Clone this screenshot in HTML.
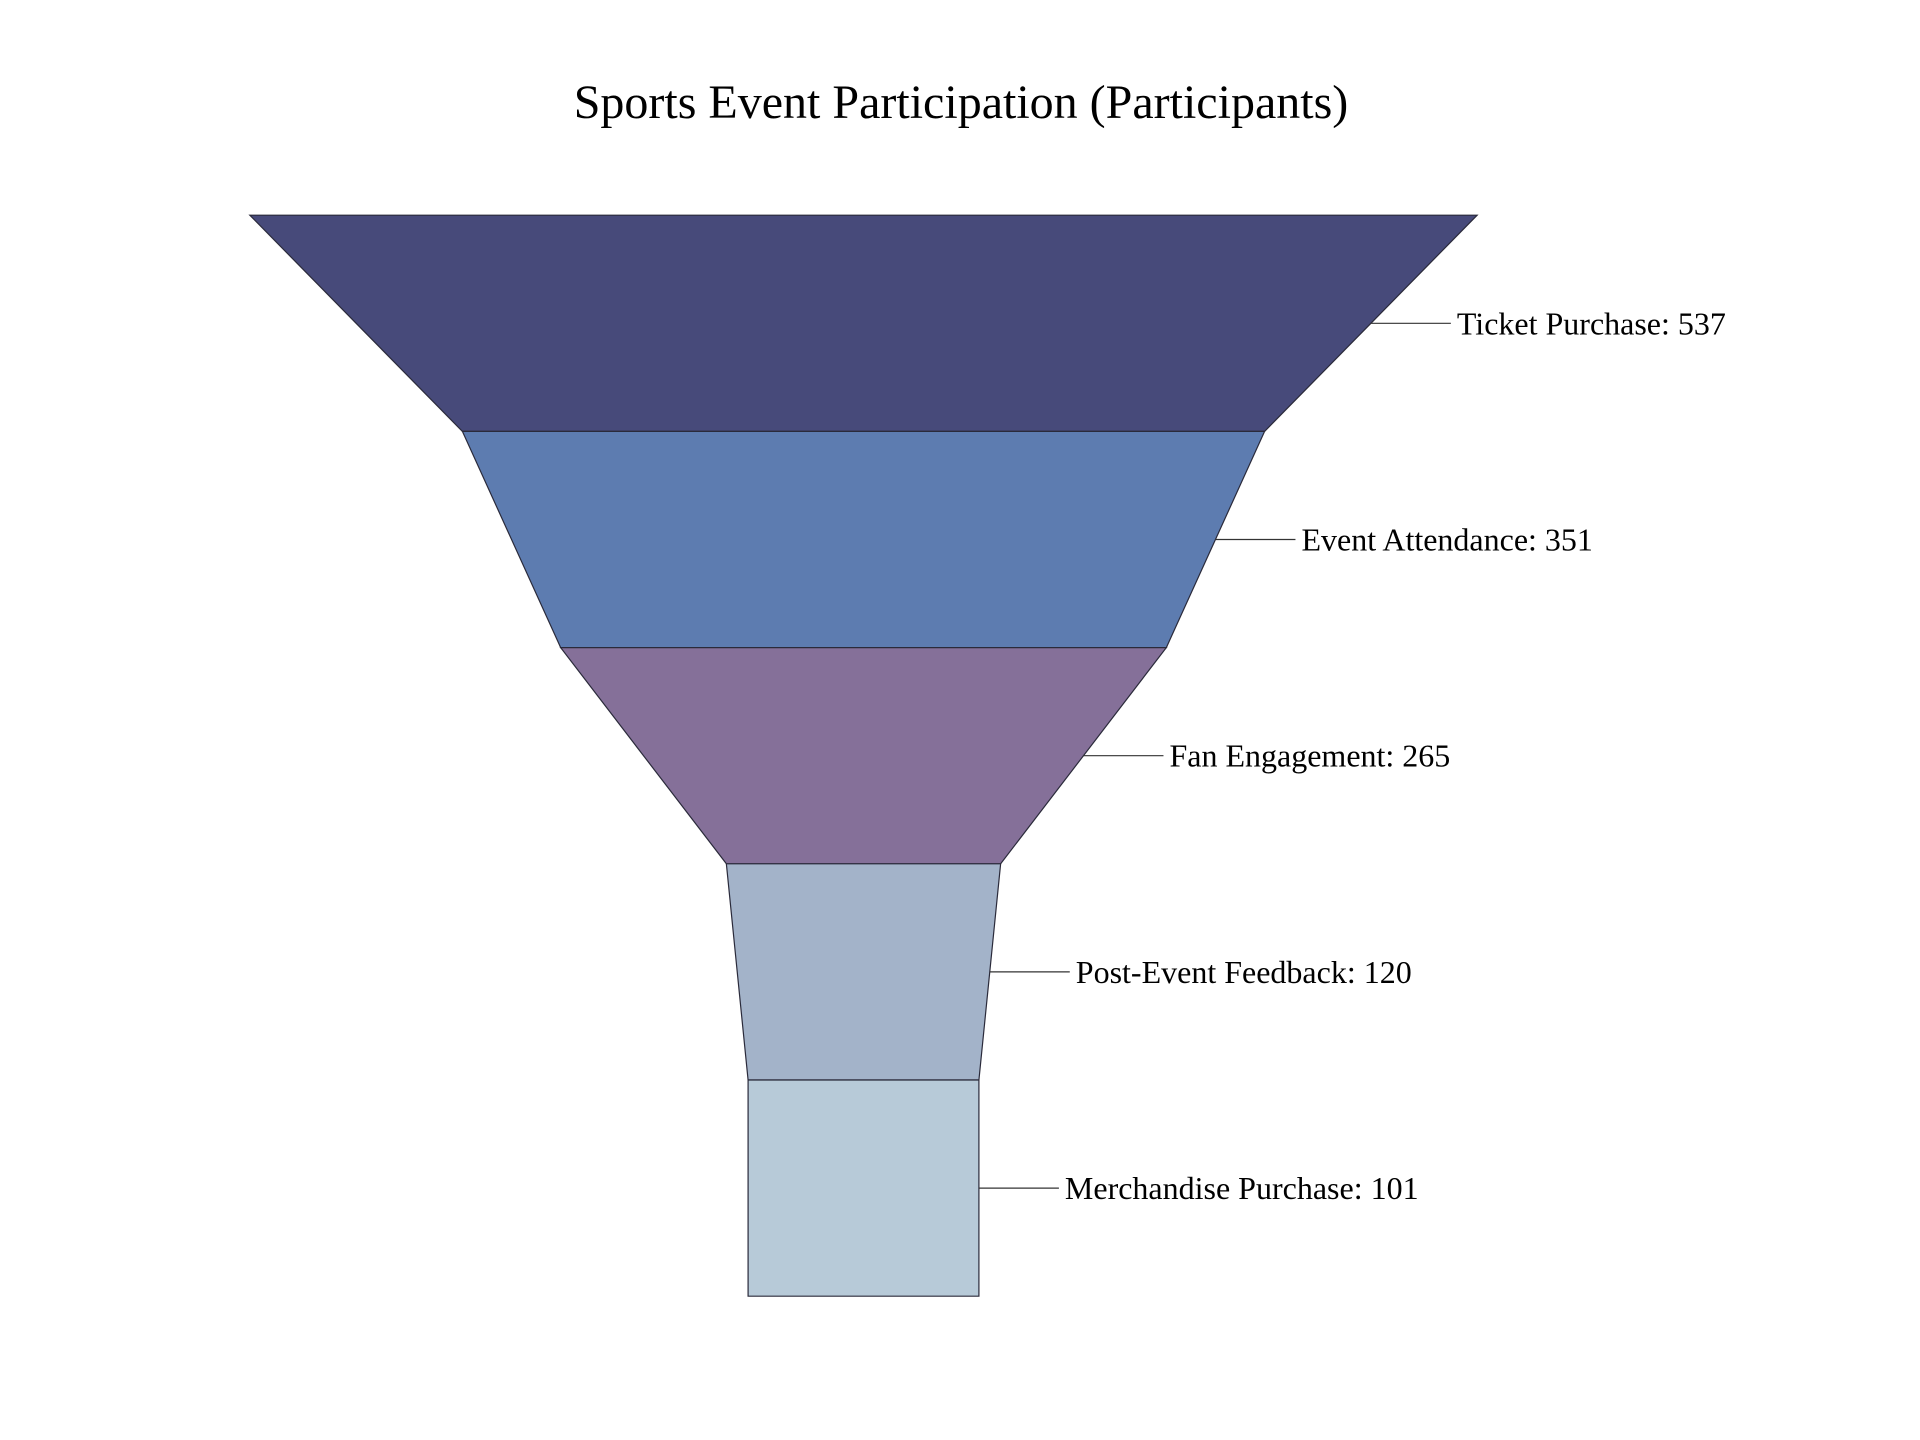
<!DOCTYPE html>
<html>
<head>
<meta charset="utf-8">
<style>
  html, body { margin: 0; padding: 0; background: #ffffff; }
  svg { display: block; }
</style>
</head>
<body>
<svg id="chart" width="1920" height="1440" viewBox="0 0 1920 1440" xmlns="http://www.w3.org/2000/svg">
  <rect width="1920" height="1440" fill="#ffffff"></rect>
  <text x="961" y="118" text-anchor="middle" font-family="'Liberation Serif', serif" font-size="48" fill="#000">Sports Event Participation (Participants)</text>
  <g id="funnel"></g>
</svg>
<script>
const stages = ["Ticket Purchase", "Event Attendance", "Fan Engagement", "Post-Event Feedback", "Merchandise Purchase"];
const values = [537, 351, 265, 120, 101];
const colors = ["#474a7a", "#5d7cb0", "#857099", "#a3b3c9", "#b7cad8"];

const cx = 863.5, top0 = 215.2, segH = 216.2;
const maxW = 1227.3;
const maxV = Math.max(...values);
function wOf(v) { return v / maxV * maxW; }
function yOf(i) { return top0 + i * segH; }

const g = document.getElementById('funnel');
const NS = "http://www.w3.org/2000/svg";
stages.forEach((name, i) => {
  const wt = wOf(values[i]);
  const wb = i < values.length - 1 ? wOf(values[i + 1]) : wt;
  const y0 = yOf(i), y1 = yOf(i + 1);
  const poly = document.createElementNS(NS, 'polygon');
  poly.setAttribute('points', `${cx - wt/2},${y0} ${cx + wt/2},${y0} ${cx + wb/2},${y1} ${cx - wb/2},${y1}`);
  poly.setAttribute('fill', colors[i]);
  poly.setAttribute('stroke', '#2a2a3a');
  poly.setAttribute('stroke-width', '1.2');
  
  
  g.appendChild(poly);

  const ym = (y0 + y1) / 2;
  const xe = cx + (wt + wb) / 4;
  const line = document.createElementNS(NS, 'line');
  line.setAttribute('x1', xe); line.setAttribute('y1', ym);
  line.setAttribute('x2', xe + 80); line.setAttribute('y2', ym);
  line.setAttribute('stroke', '#333'); line.setAttribute('stroke-width', '1.2');
  
  
  g.appendChild(line);

  const t = document.createElementNS(NS, 'text');
  t.setAttribute('x', xe + 86); t.setAttribute('y', ym + 11);
  t.setAttribute('font-family', "'Liberation Serif', serif");
  t.setAttribute('font-size', '32');
  t.setAttribute('fill', '#000');
  t.textContent = name + ': ' + values[i];
  
  
  g.appendChild(t);
});
</script>
</body>
</html>
